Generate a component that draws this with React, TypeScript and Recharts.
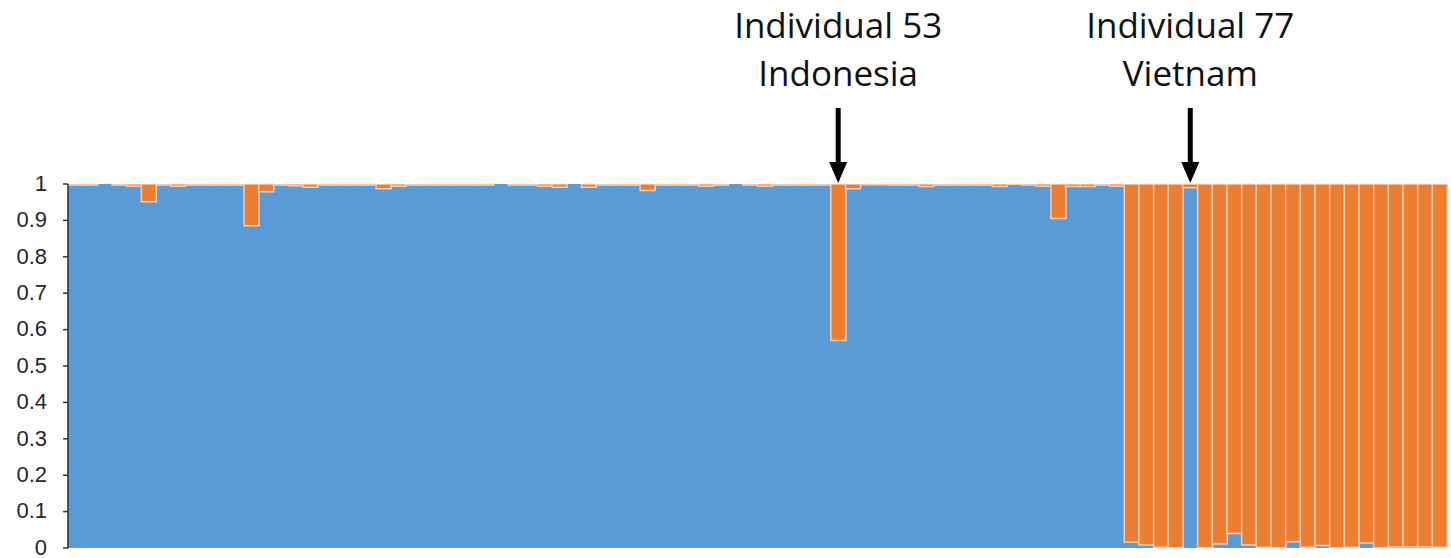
import React from 'react';
import { BarChart, Bar, XAxis, YAxis, ReferenceLine } from 'recharts';

// Individuals 1..94, in sample order
const individuals: number[] = Array.from({ length: 94 }, (_, i) => i + 1);

// Membership share in the blue cluster for each individual (the rest is the orange cluster)
const clusterBlue: number[] = [
  0.997, 0.997, 1.0, 0.997, 0.994, 0.951, 0.997, 0.994, 0.997, 0.997,
  0.997, 0.997, 0.885, 0.979, 0.997, 0.995, 0.991, 0.997, 0.997, 0.997,
  0.997, 0.987, 0.994, 0.997, 0.997, 0.997, 0.997, 0.997, 0.997, 1.0,
  0.997, 0.997, 0.994, 0.991, 1.0, 0.991, 0.997, 0.997, 0.997, 0.982,
  0.997, 0.997, 0.997, 0.994, 0.997, 1.0, 0.997, 0.994, 0.997, 0.997,
  0.997, 0.997, 0.57, 0.987, 0.998, 0.998, 0.997, 0.997, 0.993, 0.997,
  0.997, 0.997, 0.997, 0.993, 0.999, 0.997, 0.994, 0.905, 0.993, 0.993,
  0.997, 0.994, 0.016, 0.008, 0.002, 0.001, 0.99, 0.001, 0.011, 0.04,
  0.008, 0.002, 0.001, 0.017, 0.002, 0.007, 0.001, 0.002, 0.014, 0.001,
  0.003, 0.003, 0.003, 0.002,
];

const yTicks: number[] = [0, 0.1, 0.2, 0.3, 0.4, 0.5, 0.6, 0.7, 0.8, 0.9, 1];

const callouts = [
  { id: 53, name: 'Individual 53', origin: 'Indonesia' },
  { id: 77, name: 'Individual 77', origin: 'Vietnam' },
];

const data = individuals.map((id, i) => ({
  id,
  blue: clusterBlue[i],
  orange: Math.round((1 - clusterBlue[i]) * 1000) / 1000,
}));

const BLUE = '#5B9BD5';
const ORANGE = '#ED7D31';

const Callout = (props: any) => {
  const { viewBox, name, origin } = props;
  if (!viewBox) return null;
  const cx = viewBox.x;
  const top = viewBox.y;
  const textStyle = { fontFamily: '"Open Sans", sans-serif', fontSize: 35, fill: '#111' };
  return (
    <g>
      <text x={cx} y={top - 146} textAnchor="middle" style={textStyle}>{name}</text>
      <text x={cx} y={top - 98} textAnchor="middle" style={textStyle}>{origin}</text>
      <line x1={cx} x2={cx} y1={top - 76} y2={top - 18} stroke="#000" strokeWidth={5} />
      <polygon points={`${cx - 9},${top - 22} ${cx + 9},${top - 22} ${cx},${top - 1}`} fill="#000" />
    </g>
  );
};

export default function App() {
  return (
    <div style={{ position: 'absolute', top: 0, left: 0, width: 1451, height: 558 }}>
      <BarChart
        width={1451}
        height={558}
        data={data}
        margin={{ top: 184, right: 4, bottom: 10, left: 0 }}
        barCategoryGap={0}
        barGap={0}
        style={{ overflow: 'visible' }}
      >
        <XAxis
          dataKey="id"
          type="category"
          tick={false}
          tickLine={false}
          height={0}
          axisLine={{ stroke: '#D9D9D9', strokeWidth: 1 }}
        />
        <YAxis
          type="number"
          domain={[0, 1]}
          ticks={yTicks}
          interval={0}
          allowDataOverflow
          width={68}
          tickSize={5}
          tickMargin={16}
          tickFormatter={(v: number) => String(Math.round(v * 10) / 10)}
          axisLine={{ stroke: '#333', strokeWidth: 1.5 }}
          tickLine={{ stroke: '#333', strokeWidth: 1.5 }}
          tick={{ fontFamily: '"Liberation Sans", Arial, sans-serif', fontSize: 22, fill: '#262626', dy: -1 }}
        />
        <Bar dataKey="blue" stackId="a" fill={BLUE} stroke={BLUE} strokeWidth={1} isAnimationActive={false} />
        <Bar dataKey="orange" stackId="a" fill={ORANGE} stroke="#F8CBAD" strokeWidth={1.5} isAnimationActive={false} />
        {callouts.map((c) => (
          <ReferenceLine
            key={c.id}
            x={c.id}
            stroke="none"
            label={(p: any) => <Callout {...p} name={c.name} origin={c.origin} />}
          />
        ))}
      </BarChart>
    </div>
  );
}
